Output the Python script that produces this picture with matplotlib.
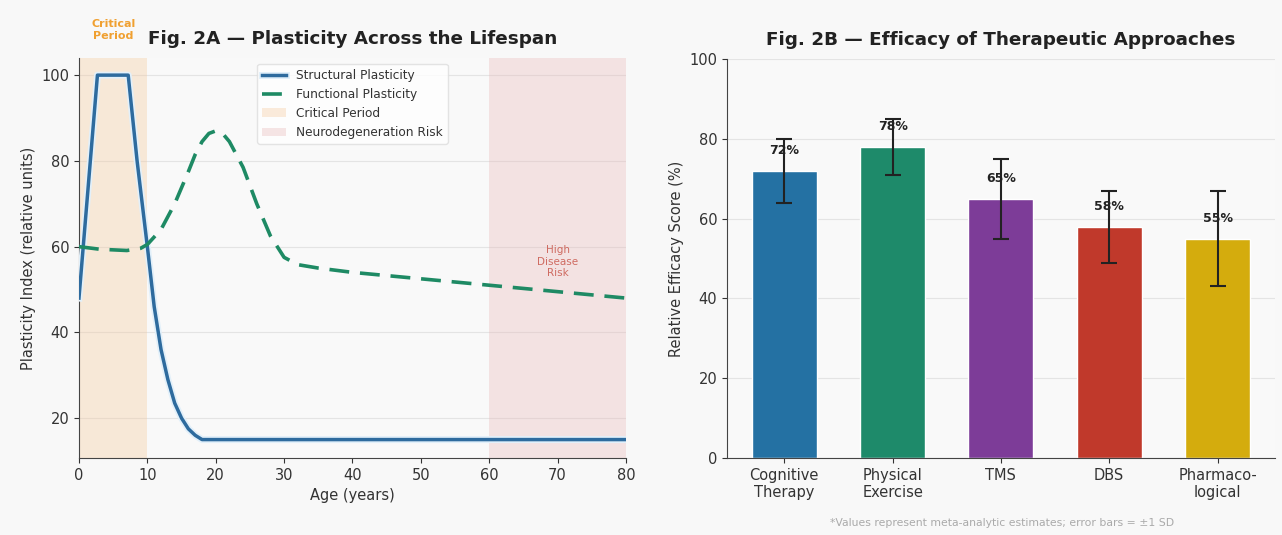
import matplotlib
matplotlib.use("Agg")
import matplotlib.pyplot as plt
import matplotlib.patheffects as pe

# Fig 2A data
age_struct = [0, 2.7, 7.2, 8.5, 10, 11, 12, 13, 14, 15, 16, 17, 18, 30, 40, 50, 60, 70, 80]
structural = [48, 100, 100, 80, 60, 46, 36, 29, 23.5, 20, 17.5, 16, 15, 15, 15, 15, 15, 15, 15]
age_func = [0, 3, 7, 9, 10, 12, 14, 16, 17, 18, 19, 20, 21, 22, 24, 26, 28, 30, 32, 35, 40, 50, 60, 70, 80]
functional = [60, 59.4, 59.1, 59.6, 60.5, 64, 70, 77.5, 81.5, 84.5, 86.4, 87, 86.4, 84.5, 78.5, 70, 62.5, 57.5, 55.8, 55, 54, 52.5, 51, 49.5, 48]
critical_span = (0, 10)
neuro_span = (60, 80)

# Fig 2B data
approaches = ["Cognitive\nTherapy", "Physical\nExercise", "TMS", "DBS", "Pharmaco-\nlogical"]
efficacy = [72, 78, 65, 58, 55]
errors = [8, 7, 10, 9, 12]
bar_colors = ["#2471a3", "#1e8a6a", "#7d3c98", "#c0392b", "#d4ac0d"]

fig = plt.figure(figsize=(12.82, 5.35), dpi=100, facecolor="#f8f8f8")
ax1 = fig.add_axes([0.0616, 0.1439, 0.4267, 0.7477])
ax2 = fig.add_axes([0.567, 0.1439, 0.4275, 0.7458])

for ax in (ax1, ax2):
    ax.set_facecolor("#f9f9f9")
    ax.spines["top"].set_visible(False)
    ax.spines["right"].set_visible(False)
    ax.spines["left"].set_color("#444444")
    ax.spines["bottom"].set_color("#444444")
    ax.tick_params(labelsize=10.5, colors="#333333")
    ax.grid(axis="y", color="#e4e4e4", lw=0.8)
    ax.set_axisbelow(True)

# ---- Fig 2A
ax1.axvspan(*critical_span, color="#f5c99a", alpha=0.35, lw=0, label="Critical Period")
ax1.axvspan(*neuro_span, color="#e8b8b8", alpha=0.35, lw=0, label="Neurodegeneration Risk")
halo = [pe.Stroke(linewidth=5, foreground="#e2f0fa"), pe.Normal()]
ax1.plot(age_struct, structural, color="#2e6b9e", lw=2.5, label="Structural Plasticity",
         path_effects=halo, zorder=3)
ax1.plot(age_func, functional, color="#1e8a64", lw=2.6, ls=(0, (5.5, 3)),
         label="Functional Plasticity", zorder=3)
ax1.set_xlim(0, 80)
ax1.set_ylim(10.7, 104)
ax1.set_xticks(range(0, 81, 10))
ax1.set_yticks([20, 40, 60, 80, 100])
ax1.set_xlabel("Age (years)", fontsize=10.5, color="#333333")
ax1.set_ylabel("Plasticity Index (relative units)", fontsize=10.5, color="#333333")
ax1.set_title("Fig. 2A — Plasticity Across the Lifespan", fontsize=13.2,
              fontweight="bold", color="#222222", pad=10)
h, l = ax1.get_legend_handles_labels()
order = [2, 3, 0, 1]
leg = ax1.legend([h[i] for i in order], [l[i] for i in order], loc="upper center",
                 fontsize=8.7, frameon=True, facecolor="white", edgecolor="#dddddd")
for t in leg.get_texts():
    t.set_color("#333333")
ax1.text(5, 1.07, "Critical\nPeriod", transform=ax1.get_xaxis_transform(),
         ha="center", va="center", fontsize=8, fontweight="bold", color="#f0a030")
ax1.text(70, 56.5, "High\nDisease\nRisk", ha="center", va="center", fontsize=7.5,
         color="#c0392b", alpha=0.7)

# ---- Fig 2B
x = range(len(approaches))
ax2.bar(x, efficacy, width=0.6, color=bar_colors, edgecolor="white", lw=1,
        yerr=errors, capsize=6, error_kw=dict(ecolor="#222222", elinewidth=1.5, capthick=1.5))
for i, v in enumerate(efficacy):
    ax2.text(i, v + 5, f"{v}%", ha="center", va="center", fontsize=9,
             fontweight="bold", color="#222222")
ax2.set_xticks(list(x))
ax2.set_xticklabels(approaches)
ax2.set_ylim(0, 100)
ax2.set_yticks(range(0, 101, 20))
ax2.set_ylabel("Relative Efficacy Score (%)", fontsize=10.5, color="#333333")
ax2.set_title("Fig. 2B — Efficacy of Therapeutic Approaches", fontsize=13.2,
              fontweight="bold", color="#222222", pad=10)
fig.text(0.782, 0.022, "*Values represent meta-analytic estimates; error bars = ±1 SD",
         ha="center", va="center", fontsize=7.8, color="#aaaaaa")

fig.savefig("out.png", dpi=100, facecolor=fig.get_facecolor())
